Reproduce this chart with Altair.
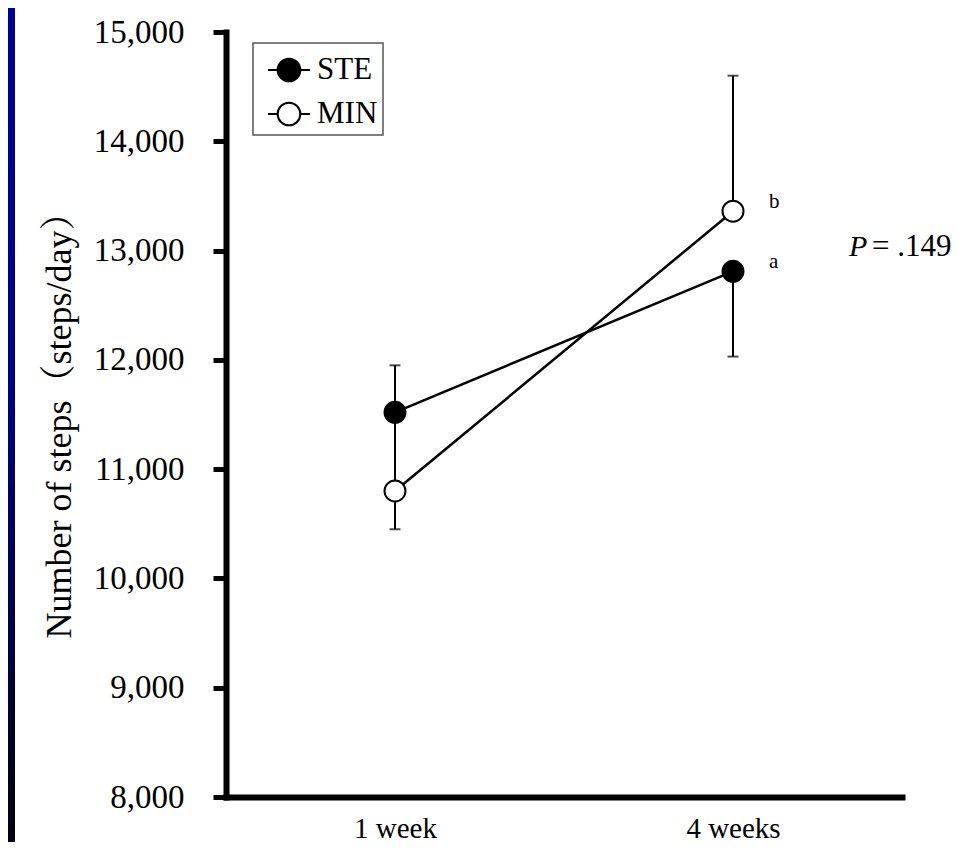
import altair as alt
import pandas as pd

# ---- data ----
weeks = ["1 week", "4 weeks"]
groups = ["STE", "MIN"]
ste_mean = [11520, 12810]
min_mean = [10800, 13360]
ste_err_lo = [11090, 12030]
ste_err_hi = [11950, 12810]
min_err_lo = [10450, 13360]
min_err_hi = [11150, 14600]
ste_cap = [11950, 12030]
min_cap = [10450, 14600]
ste_letter = ["", "a"]
min_letter = ["", "b"]
y_ticks = [8000, 9000, 10000, 11000, 12000, 13000, 14000, 15000]
p_label = ["P"]
p_value = ["= .149"]

rows = []
for g, m, lo, hi, cap, let in [
    ("STE", ste_mean, ste_err_lo, ste_err_hi, ste_cap, ste_letter),
    ("MIN", min_mean, min_err_lo, min_err_hi, min_cap, min_letter),
]:
    for i, w in enumerate(weeks):
        rows.append(dict(group=g, week=w, mean=m[i], lo=lo[i], hi=hi[i], cap=cap[i], letter=let[i]))
df = pd.DataFrame(rows)
p_df = pd.DataFrame({"week": [weeks[1]], "y": [13050], "p": p_label, "v": p_value})

SERIF = "Liberation Serif, Noto Serif CJK JP, Noto Sans CJK JP, serif"
Y_TITLE = "Number of steps（steps/day）"

x_axis = alt.Axis(title=None, ticks=False, tickSize=0, labelPadding=17,
                  labelFont=SERIF, labelFontSize=29, labelColor="black",
                  labelAngle=0, domainColor="black", domainWidth=6,
                  domainCap="square", grid=False)
y_axis = alt.Axis(values=y_ticks, format=",d", grid=False,
                  title=Y_TITLE,
                  titleFont=SERIF, titleFontSize=36, titleFontWeight="normal",
                  titleColor="black", titleX=-156, titleY=384,
                  titleBaseline="alphabetic", titleAlign="center", titleAngle=-90,
                  labelFont=SERIF, labelFontSize=33, labelColor="black",
                  labelPadding=29, tickSize=13, tickWidth=5, tickColor="black",
                  domainColor="black", domainWidth=6, domainCap="square")

x_scale = alt.Scale(type="point", padding=0.5, domain=weeks)
y_scale = alt.Scale(domain=[8000, 15000], nice=False, zero=False)


def X():
    return alt.X("week:N", scale=x_scale, axis=x_axis, title=None)


def Y(field):
    return alt.Y(field, scale=y_scale, axis=y_axis, title=Y_TITLE)


base = alt.Chart(df)

# left border strip (decoration)
strip = alt.Chart(pd.DataFrame({"d": [0]})).mark_rect(
    color=alt.LinearGradient(
        gradient="linear",
        stops=[alt.GradientStop(color="#000096", offset=0),
               alt.GradientStop(color="#000088", offset=0.45),
               alt.GradientStop(color="#000010", offset=1)],
        x1=0, x2=0, y1=0, y2=1,
    )
).encode(x=alt.value(-218), x2=alt.value(-211), y=alt.value(-24), y2=alt.value(812))

lines = base.mark_line(color="black", strokeWidth=2.5).encode(
    x=X(), y=Y("mean:Q"), detail="group:N"
)

errs = base.mark_rule(color="black", strokeWidth=2).encode(
    x=X(), y=Y("lo:Q"), y2="hi:Q"
)

caps = base.mark_tick(color="black", thickness=2, size=11).encode(
    x=X(), y=Y("cap:Q")
)

legend_path = ("M-1,0 L-0.54,0 M0.54,0 L1,0 "
               "M-0.54,0 A0.54,0.54 0 1,1 0.54,0 A0.54,0.54 0 1,1 -0.54,0 Z")

points = base.mark_point(shape="circle", filled=True, size=440, opacity=1,
                         stroke="black", strokeWidth=2).encode(
    x=X(),
    y=Y("mean:Q"),
    fill=alt.Fill("group:N", scale=alt.Scale(domain=groups, range=["black", "white"]),
                  legend=alt.Legend(title=None, orient="none", legendX=27, legendY=11,
                                    symbolType=legend_path, symbolSize=1764,
                                    symbolOffset=9,
                                    symbolStrokeColor="black", symbolStrokeWidth=2,
                                    symbolOpacity=1,
                                    labelExpr="datum.label + '\u2003'",
                                    labelFont=SERIF, labelFontSize=31, labelColor="black",
                                    labelOffset=6, padding=5, rowPadding=6,
                                    strokeColor="#555555",
                                    fillColor="white")),
)

letters = base.transform_filter(alt.datum.letter != "").mark_text(
    align="left", baseline="middle", dx=36, dy=-9, font=SERIF, fontSize=21, color="black"
).encode(x=X(), y=Y("mean:Q"), text="letter:N")

p_text = alt.Chart(p_df).mark_text(
    align="left", baseline="alphabetic", dx=116, dy=11, font=SERIF, fontSize=30,
    fontStyle="italic", color="black"
).encode(x=X(), y=Y("y:Q"), text="p:N")

v_text = alt.Chart(p_df).mark_text(
    align="left", baseline="alphabetic", dx=139, dy=11, font=SERIF, fontSize=31,
    color="black"
).encode(x=X(), y=Y("y:Q"), text="v:N")

chart = alt.layer(strip, lines, errs, caps, points, letters, p_text, v_text).properties(
    width=676, height=765,
    autosize=alt.AutoSizeParams(type="none"),
    padding={"left": 218, "top": 24, "right": 62, "bottom": 45},
    background="white",
).configure_view(stroke=None).configure_legend(strokeWidth=1.5)

chart.save("out.html", embed_options={"renderer": "svg", "actions": False})
